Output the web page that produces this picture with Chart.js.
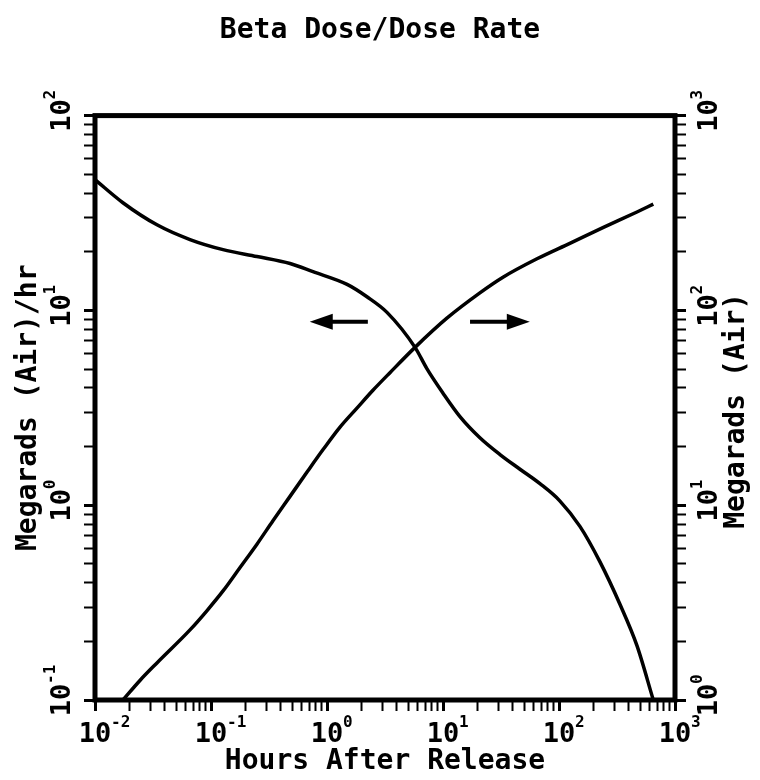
<!DOCTYPE html>
<html>
<head>
<meta charset="utf-8">
<script src="https://cdn.jsdelivr.net/npm/chart.js@4.4.1/dist/chart.umd.min.js"></script>
<style>
  html, body { margin: 0; padding: 0; background: #fff; }
  #wrap { width: 760px; height: 780px; position: relative; }
</style>
</head>
<body>
<div id="wrap"><canvas id="betaChart"></canvas></div>
<script>
// Dose rate curve (left axis, Megarads (Air)/hr)
const hoursRate = [0.01, 0.0174, 0.0342, 0.0659, 0.127, 0.249, 0.48, 0.757, 1.49, 2.21, 3.29, 5.74, 7.28, 10, 14.0, 20.8, 31.0, 46.1, 68.5, 102, 152, 225, 336, 470, 650];
const doseRate  = [46.9, 35.7, 27.5, 23.1, 20.5, 18.9, 17.4, 15.8, 13.6, 11.75, 9.77, 6.46, 5.01, 3.76, 2.85, 2.22, 1.82, 1.53, 1.29, 1.05, 0.776, 0.513, 0.309, 0.19, 0.1];

// Integrated dose curve (right axis, Megarads (Air))
const hoursDose = [0.0174, 0.0244, 0.0342, 0.0659, 0.0925, 0.127, 0.178, 0.249, 0.342, 0.48, 0.673, 0.925, 1.29, 1.82, 2.49, 3.49, 5.74, 10.8, 20.8, 32.9, 64.6, 124, 239, 470, 650];
const doseTotal = [1.0, 1.26, 1.55, 2.29, 2.88, 3.63, 4.79, 6.31, 8.32, 11.1, 14.8, 19.3, 25.1, 31.6, 38.9, 47.9, 64.6, 91.2, 123, 148, 184, 221, 266, 320, 351];

// decade labels (exponents of 10)
const xExponents = ['-2', '-1', '0', '1', '2', '3'];
const leftExponents = ['-1', '0', '1', '2'];
const rightExponents = ['0', '1', '2', '3'];

// arrows: [from hours, to hours], drawn at a dose-rate level on the left axis
const arrowHours = [[2.25, 0.71], [17.1, 56]];
const arrowLevel = [8.75, 8.75];

const FONT = '"DejaVu Sans Mono", monospace';

function isPow10(v) {
    const l = Math.log10(v);
    return Math.abs(l - Math.round(l)) < 1e-6;
}

function logTicks(min, max) {
    const ticks = [];
    for (let e = Math.round(Math.log10(min)); e < Math.round(Math.log10(max)); e++) {
        for (let s = 1; s <= 9; s++) ticks.push({ value: s * Math.pow(10, e) });
    }
    ticks.push({ value: max });
    return ticks;
}

function axisGrid() {
    return {
        drawOnChartArea: false,
        drawTicks: true,
        tickLength: 11,
        tickColor: '#000',
        tickWidth: (c) => (c.tick && isPow10(c.tick.value)) ? 3 : 2
    };
}

function drawPow(ctx, exp) {
    // draws "10" centred on (0,0) with the exponent at its upper right
    ctx.textAlign = 'center';
    ctx.textBaseline = 'alphabetic';
    ctx.font = 'bold 27px ' + FONT;
    ctx.fillText('10', 0, 10);
    ctx.textAlign = 'left';
    ctx.font = 'bold 16px ' + FONT;
    ctx.fillText(exp, 16, -5);
}

const decorPlugin = {
    id: 'decor',
    afterDraw(chart) {
        const { ctx, chartArea: a, scales } = chart;
        ctx.save();
        ctx.fillStyle = '#000';
        ctx.strokeStyle = '#000';

        // frame
        ctx.lineWidth = 5;
        ctx.strokeRect(a.left, a.top, a.right - a.left, a.bottom - a.top);

        // x decade labels
        xExponents.forEach(e => {
            const px = scales.x.getPixelForValue(Math.pow(10, +e));
            ctx.save();
            ctx.translate(px, 732);
            drawPow(ctx, e);
            ctx.restore();
        });

        // left decade labels (rotated)
        leftExponents.forEach(e => {
            const py = scales.yL.getPixelForValue(Math.pow(10, +e));
            ctx.save();
            ctx.translate(60, py);
            ctx.rotate(-Math.PI / 2);
            drawPow(ctx, e);
            ctx.restore();
        });

        // right decade labels (rotated)
        rightExponents.forEach(e => {
            const py = scales.yR.getPixelForValue(Math.pow(10, +e));
            ctx.save();
            ctx.translate(707, py);
            ctx.rotate(-Math.PI / 2);
            drawPow(ctx, e);
            ctx.restore();
        });

        // axis titles
        ctx.font = 'bold 28px ' + FONT;
        ctx.textAlign = 'center';
        ctx.textBaseline = 'middle';
        ctx.fillText('Hours After Release', (a.left + a.right) / 2, 762);

        ctx.save();
        ctx.translate(29, (a.top + a.bottom) / 2);
        ctx.rotate(-Math.PI / 2);
        ctx.fillText('Megarads (Air)/hr', 0, 0);
        ctx.restore();

        ctx.save();
        ctx.translate(737, (a.top + a.bottom) / 2 + 3);
        ctx.rotate(-Math.PI / 2);
        ctx.fillText('Megarads (Air)', 0, 0);
        ctx.restore();

        // arrows
        arrowHours.forEach((pair, i) => {
            const x0 = scales.x.getPixelForValue(pair[0]);
            const x1 = scales.x.getPixelForValue(pair[1]);
            const y = scales.yL.getPixelForValue(arrowLevel[i]);
            const dir = Math.sign(x1 - x0);
            ctx.lineWidth = 4;
            ctx.beginPath();
            ctx.moveTo(x0, y);
            ctx.lineTo(x1 - dir * 18, y);
            ctx.stroke();
            ctx.beginPath();
            ctx.moveTo(x1, y);
            ctx.lineTo(x1 - dir * 23, y - 8);
            ctx.lineTo(x1 - dir * 23, y + 8);
            ctx.closePath();
            ctx.fill();
        });

        ctx.restore();
    }
};

new Chart(document.getElementById('betaChart'), {
    type: 'line',
    data: {
        datasets: [
            {
                label: 'Dose Rate',
                data: hoursRate.map((h, i) => ({ x: h, y: doseRate[i] })),
                yAxisID: 'yL',
                borderColor: '#000',
                borderWidth: 3.5,
                pointRadius: 0,
                cubicInterpolationMode: 'monotone',
                fill: false
            },
            {
                label: 'Dose',
                data: hoursDose.map((h, i) => ({ x: h, y: doseTotal[i] })),
                yAxisID: 'yR',
                borderColor: '#000',
                borderWidth: 3.5,
                pointRadius: 0,
                cubicInterpolationMode: 'monotone',
                fill: false
            }
        ]
    },
    options: {
        responsive: true,
        maintainAspectRatio: false,
        animation: false,
        layout: { padding: 0 },
        plugins: {
            legend: { display: false },
            tooltip: { enabled: false },
            title: {
                display: true,
                text: 'Beta Dose/Dose Rate',
                color: '#000',
                font: { family: FONT, size: 28, weight: 'bold' },
                padding: { top: 14, bottom: 68 }
            }
        },
        scales: {
            x: {
                type: 'logarithmic',
                position: 'bottom',
                min: 0.01,
                max: 1000,
                grid: axisGrid(),
                border: { display: false },
                ticks: { display: false },
                afterBuildTicks: (s) => { s.ticks = logTicks(0.01, 1000); },
                afterFit: (s) => { s.height = 80; }
            },
            yL: {
                type: 'logarithmic',
                position: 'left',
                min: 0.1,
                max: 100,
                grid: axisGrid(),
                border: { display: false },
                ticks: { display: false },
                afterBuildTicks: (s) => { s.ticks = logTicks(0.1, 100); },
                afterFit: (s) => { s.width = 95; }
            },
            yR: {
                type: 'logarithmic',
                position: 'right',
                min: 1,
                max: 1000,
                grid: axisGrid(),
                border: { display: false },
                ticks: { display: false },
                afterBuildTicks: (s) => { s.ticks = logTicks(1, 1000); },
                afterFit: (s) => { s.width = 85; }
            }
        }
    },
    plugins: [decorPlugin]
});
</script>
</body>
</html>
